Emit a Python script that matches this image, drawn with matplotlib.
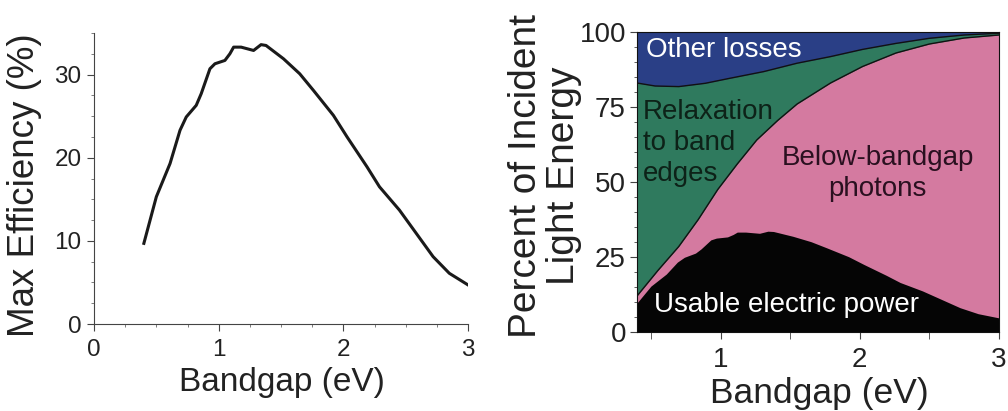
import matplotlib
matplotlib.use('Agg')
import matplotlib.pyplot as plt
from matplotlib.ticker import MultipleLocator

plt.rcParams['font.family'] = ['Liberation Sans', 'DejaVu Sans']

# Shockley-Queisser limit
eff_x = [0.4, 0.5, 0.61, 0.69, 0.74, 0.82, 0.86, 0.93, 0.97, 1.05, 1.09, 1.12, 1.18, 1.28,
         1.34, 1.38, 1.52, 1.65, 1.76, 1.92, 2.03, 2.19, 2.29, 2.45, 2.72, 2.85, 3.0]
eff = [9.7, 15.3, 19.3, 23.3, 24.9, 26.3, 27.7, 30.7, 31.3, 31.7, 32.5, 33.3, 33.3, 32.9,
       33.6, 33.5, 31.9, 30.1, 28.1, 25.1, 22.5, 18.9, 16.5, 13.7, 8.1, 6.1, 4.7]

# cumulative boundary: usable + below-bandgap photons
below_x = [0.4, 0.55, 0.7, 0.84, 0.98, 1.12, 1.26, 1.41, 1.55, 1.79, 2.02, 2.26, 2.5, 2.75, 3.0]
below_top = [12, 20.5, 28.5, 37.5, 47.5, 56, 64, 70.5, 76, 83, 88.5, 93, 96, 98, 99]

# cumulative boundary: usable + below-bandgap + relaxation
relax_x = [0.4, 0.53, 0.7, 0.89, 1.07, 1.31, 1.55, 1.79, 2.02, 2.26, 2.5, 2.75, 3.0]
relax_top = [83, 82, 81.8, 82.9, 84.6, 86.8, 89.6, 91.8, 94.2, 96.2, 97.9, 99, 99.6]

W, H = 1008, 411
fig = plt.figure(figsize=(W / 100, H / 100), dpi=100)
txt = '#222222'


def px_box(x0, x1, y0, y1):
    # pixel box (top-left origin) -> figure fraction rect
    return [x0 / W, (H - y1) / H, (x1 - x0) / W, (y1 - y0) / H]


# left panel
ax1 = fig.add_axes(px_box(94, 468, 33, 324))
ax1.plot(eff_x, eff, color='#1a1a1a', lw=2.2)
ax1.set_xlim(0, 3)
ax1.set_ylim(0, 35)
ax1.set_xticks([0, 1, 2, 3])
ax1.set_yticks([0, 10, 20, 30])
ax1.xaxis.set_minor_locator(MultipleLocator(0.25))
ax1.yaxis.set_minor_locator(MultipleLocator(2.5))
ax1.spines['top'].set_visible(False)
ax1.spines['right'].set_visible(False)
for s in ('left', 'bottom'):
    ax1.spines[s].set_color('#444444')
ax1.tick_params(which='major', direction='out', length=5, labelsize=17.5, labelcolor=txt,
                color='#444444')
ax1.tick_params(axis='x', which='major', pad=6)
ax1.tick_params(axis='y', which='major', pad=4)
ax1.tick_params(which='minor', direction='out', length=2.5, color='#666666')
fig.text(25 / W, 1 - 185 / H, 'Max Efficiency (%)', rotation=90, ha='center', va='center',
         fontsize=26.5, color=txt)
fig.text(282 / W, 1 - 382 / H, 'Bandgap (eV)', ha='center', va='center', fontsize=24, color=txt)

# right panel
ax2 = fig.add_axes(px_box(637, 999, 32, 332))
ax2.set_facecolor('#2a3f86')
ax2.fill_between(relax_x, 0, relax_top, color='#2f7a5e', lw=0)
ax2.plot(relax_x, relax_top, color='#111111', lw=1)
ax2.fill_between(below_x, 0, below_top, color='#d47aa0', lw=0)
ax2.plot(below_x, below_top, color='#111111', lw=1)
ax2.fill_between(eff_x, 0, eff, color='#050505', lw=0)
ax2.set_xlim(0.4, 3)
ax2.set_ylim(0, 100)
ax2.set_xticks([1, 2, 3])
ax2.set_yticks([0, 25, 50, 75, 100])
ax2.xaxis.set_minor_locator(MultipleLocator(0.5))
ax2.yaxis.set_minor_locator(MultipleLocator(5))
for s in ax2.spines.values():
    s.set_color('#111111')
ax2.tick_params(which='major', direction='out', length=5, labelsize=20, labelcolor=txt,
                color='#444444')
ax2.tick_params(axis='x', which='major', pad=6)
ax2.tick_params(axis='y', which='major', pad=3)
ax2.tick_params(which='minor', direction='out', length=5, color='#444444')
ax2.tick_params(axis='y', which='minor', length=2.5)

ax2.text(0.465, 94, 'Other losses', color='white', fontsize=20, ha='left', va='center')
ax2.text(0.44, 63, 'Relaxation\nto band\nedges', color='#0d2218', fontsize=20, ha='left',
         va='center', linespacing=1.25)
ax2.text(2.13, 53, 'Below-bandgap\nphotons', color='#2a1020', fontsize=20, ha='center',
         va='center', linespacing=1.25)
ax2.text(0.52, 9, 'Usable electric power', color='white', fontsize=20, ha='left', va='center')

fig.text(545 / W, 1 - 176 / H, 'Percent of Incident\nLight Energy', rotation=90, ha='center',
         va='center', fontsize=28, color=txt, linespacing=1.1)
fig.text(819 / W, 1 - 393 / H, 'Bandgap (eV)', ha='center', va='center', fontsize=25.5, color=txt)

fig.savefig('out.png', dpi=100, facecolor='white')
